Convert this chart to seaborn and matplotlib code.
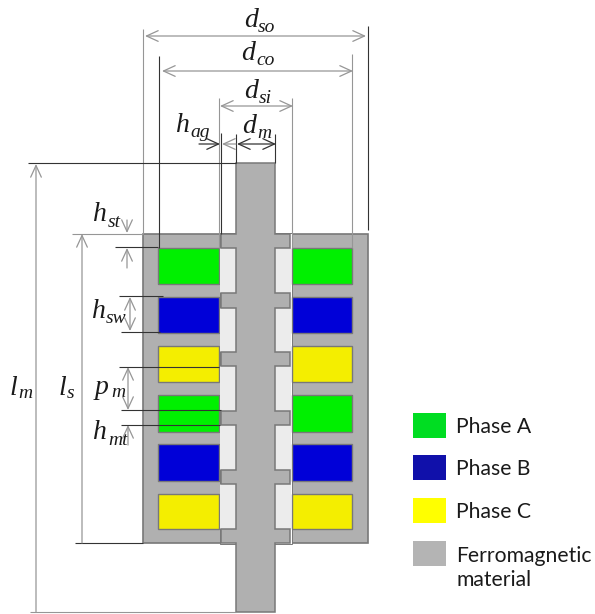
import matplotlib
matplotlib.use("Agg")
import matplotlib.pyplot as plt
from matplotlib.patches import Rectangle, Polygon
import seaborn as sns

sns.set_theme(style="white")

# ---- geometry (pixels) ----
phases = ["A", "B", "C", "A", "B", "C"]
coil_top = [248, 297, 346, 395, 444, 494]
coil_bottom = [284, 333, 382, 432, 481, 529]
coil_left = [158, 292]
coil_right = [219, 352]
tooth_top = [234, 293, 352, 411, 470, 529]
tooth_bottom = [248, 308, 366, 425, 484, 543]
stator_x = [143, 368]
stator_y = [234, 543]
mover_x = [236, 275]
mover_y = [163, 612]
tooth_x = [221, 290]
gap_x = [219.5, 291.5]

phase_colors = {"A": "#00f000", "B": "#0000d8", "C": "#f4ee00"}
iron = "#b0b0b0"
slot = "#ececec"
edge = "#787878"
dark = "#333333"
grey = "#969696"

# (x, y0, y1, colour)
v_lines = [(143, 29, 234, grey), (368, 26, 230, dark), (159, 56, 248, dark), (352, 54, 248, grey),
           (219, 98, 248, grey), (292, 98, 248, grey), (221, 133, 234, dark),
           (236, 134, 163, dark), (275, 134, 163, dark)]
# (y, x0, x1, colour)
h_lines = [(163, 28, 236, dark), (612, 30, 236, grey), (234, 72, 143, grey), (543, 75, 143, dark),
           (247, 115, 158, dark), (296, 119, 163, dark), (332, 121, 160, dark),
           (367, 119, 219, dark), (410, 121, 221, dark), (425, 121, 220, dark)]
# arrows: (x0, y0, x1, y1, style, colour)
arrows = [(145, 36, 366, 36, "<->", grey), (162, 71, 353, 71, "<->", grey), (220, 106, 293, 106, "<->", grey),
          (199, 144, 220, 144, "->", dark), (236, 144, 222, 144, "->", grey), (237, 144, 276, 144, "<->", dark),
          (36, 164, 36, 612, "<-", grey), (82, 234, 82, 543, "<-", grey),
          (127, 220, 127, 233, "->", grey), (127, 268, 127, 248, "->", grey),
          (130, 297, 130, 331, "<->", grey), (128, 367, 128, 410, "<->", grey),
          (128, 445, 128, 425, "->", grey)]
# symbol: (main, sub, main x, main baseline, sub x, sub baseline)
symbols = [("d", "so", 244, 27, 258, 32), ("d", "co", 241, 60, 256, 65), ("d", "si", 244, 98, 259, 103),
           ("h", "ag", 176, 132, 190, 137), ("d", "m", 242, 133, 257, 138),
           ("h", "st", 93, 221, 108, 227), ("h", "sw", 92, 318, 106, 323), ("p", "m", 95, 394, 111, 397),
           ("h", "mt", 93, 439, 108, 445), ("l", "m", 10, 395, 18, 398), ("l", "s", 59, 395, 67, 398)]

legend_labels = ["Phase A", "Phase B", "Phase C", "Ferromagnetic"]
legend_colors = ["#00dd22", "#1010aa", "#ffff00", "#b4b4b4"]
legend_top = [413, 455, 498, 541]
legend_baseline = [433, 475, 518, 562]

# ---- drawing ----
fig = plt.figure(figsize=(5.95, 6.14), dpi=100)
ax = fig.add_axes([0, 0, 1, 1])
ax.set_xlim(0, 595)
ax.set_ylim(614, 0)
ax.axis("off")

# stator with central bore
ax.add_patch(Rectangle((stator_x[0], stator_y[0]), stator_x[1] - stator_x[0], stator_y[1] - stator_y[0],
                       fc=iron, ec=edge, lw=1.2, zorder=1))
ax.add_patch(Rectangle((gap_x[0], stator_y[0] - 1), gap_x[1] - gap_x[0], stator_y[1] - stator_y[0] + 2,
                       fc="white", ec=edge, lw=0.7, zorder=2))

# coils
for name, top, bottom in zip(phases, coil_top, coil_bottom):
    for left, right in zip(coil_left, coil_right):
        ax.add_patch(Rectangle((left, top), right - left, bottom - top,
                               fc=phase_colors[name], ec=edge, lw=1, zorder=3))

# air-gap slots between the mover teeth
for y0, y1 in zip(tooth_bottom[:-1], tooth_top[1:]):
    ax.add_patch(Rectangle((gap_x[0] + 0.5, y0), mover_x[0] - gap_x[0] - 0.5, y1 - y0, fc=slot, ec="none", zorder=3))
    ax.add_patch(Rectangle((mover_x[1], y0), gap_x[1] - mover_x[1] - 0.5, y1 - y0, fc=slot, ec="none", zorder=3))

# mover outline with its teeth
right_side = [(mover_x[1], mover_y[0])]
for y0, y1 in zip(tooth_top, tooth_bottom):
    right_side += [(mover_x[1], y0), (tooth_x[1], y0), (tooth_x[1], y1), (mover_x[1], y1)]
right_side.append((mover_x[1], mover_y[1]))
left_side = [(tooth_x[0] if x == tooth_x[1] else mover_x[0], y) for x, y in reversed(right_side)]
ax.add_patch(Polygon(right_side + left_side, closed=True, fc=iron, ec=edge, lw=1.1, zorder=4))

# dimension lines
for x, y0, y1, c in v_lines:
    ax.plot([x, x], [y0, y1], color=c, lw=0.8, zorder=5, solid_capstyle="butt")
for y, x0, x1, c in h_lines:
    ax.plot([x0, x1], [y, y], color=c, lw=0.8, zorder=5, solid_capstyle="butt")
for x0, y0, x1, y1, style, c in arrows:
    ax.annotate("", xy=(x1, y1), xytext=(x0, y0), zorder=6,
                arrowprops=dict(arrowstyle=f"{style},head_length=0.7,head_width=0.32", color=c, lw=0.9,
                                shrinkA=0, shrinkB=0))

# symbols
serif = dict(family="Liberation Serif", style="italic", color="#1a1a1a", va="baseline", ha="left")
for main, sub, mx, my, sx, sy in symbols:
    ax.text(mx, my, main, fontsize=20, **serif)
    ax.text(sx, sy, sub, fontsize=14, **serif)

# legend
for label, color, top, base in zip(legend_labels, legend_colors, legend_top, legend_baseline):
    ax.add_patch(Rectangle((413, top), 33, 25, fc=color, ec="none"))
    ax.text(456, base, label, family="Lato", fontsize=15.2, color="#1a1a1a", va="baseline", ha="left")
ax.text(456, 586, "material", family="Lato", fontsize=15.2, color="#1a1a1a", va="baseline", ha="left")

fig.savefig("out.png", dpi=100, facecolor="white")
